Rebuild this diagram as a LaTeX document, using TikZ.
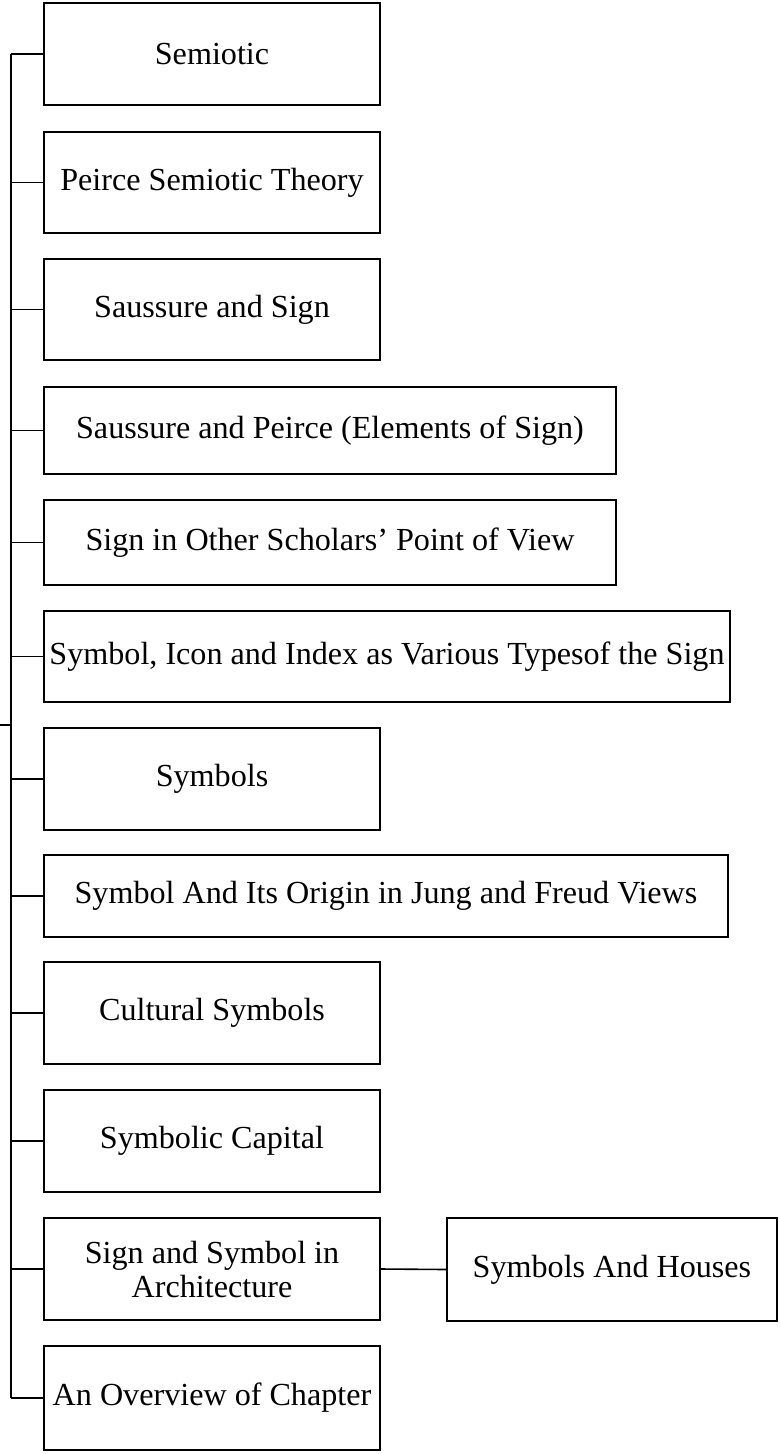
\documentclass[tikz,border=0pt]{standalone}
\usepackage{fontspec}
\setmainfont{Liberation Serif}
\usetikzlibrary{positioning}
\tikzset{
    topic/.style 2 args={
           rectangle,
           draw=black, line width=1.2pt,
           minimum width=#1*0.75pt,
           minimum height=#2*0.75pt,
           inner sep=1pt,
           align=center,
           font=\fontsize{24.1}{25.5}\selectfont,
           },
    branch/.style={black, line width=1.2pt},
}
\begin{document}
\begin{tikzpicture}[x=0.75pt,y=-0.75pt]
  \useasboundingbox (0,0) rectangle (779,1454);

  \node[topic={336}{102}] (semiotic)  at (212,54)     {Semiotic};
  \node[topic={336}{101}] (peirce)    at (212,182.5)  {Peirce Semiotic Theory};
  \node[topic={336}{101}] (saussure)  at (212,309.5)  {Saussure and Sign};
  \node[topic={572}{87}]  (elements)  at (330,430.5)  {Saussure and Peirce (Elements of Sign)};
  \node[topic={572}{85}]  (scholars)  at (330,542.5)  {Sign in Other Scholars’ Point of View};
  \node[topic={686}{91}]  (types)     at (387,656.5)  {Symbol, Icon and Index as Various Typesof the Sign};
  \node[topic={336}{102}] (symbols)   at (212,779)    {Symbols};
  \node[topic={684}{82}]  (origin)    at (386,896)    {Symbol And Its Origin in Jung and Freud Views};
  \node[topic={336}{102}] (cultural)  at (212,1013)   {Cultural Symbols};
  \node[topic={336}{102}] (capital)   at (212,1141)   {Symbolic Capital};
  \node[topic={336}{102}] (arch)      at (212,1269)   {Sign and Symbol in\\Architecture};
  \node[topic={330}{103}] (houses)    at (612,1269.5) {Symbols And Houses};
  \node[topic={336}{104}] (overview)  at (212,1398)   {An Overview of Chapter};

  % trunk on the left
  \coordinate (trunktop) at (11,54);
  \coordinate (trunkbot) at (11,1398);
  \coordinate (root)     at (0,725);
  \draw[branch] (trunktop) -- (trunkbot);
  \draw[branch] (root) -- (root -| trunktop);

  \foreach \n in {semiotic,peirce,saussure,elements,scholars,types,
                  symbols,origin,cultural,capital,arch,overview}
    \draw[branch] (\n.west) -- (\n.west -| trunktop);

  \draw[branch] (arch.east) -- (houses.west);

\end{tikzpicture}
\end{document}
